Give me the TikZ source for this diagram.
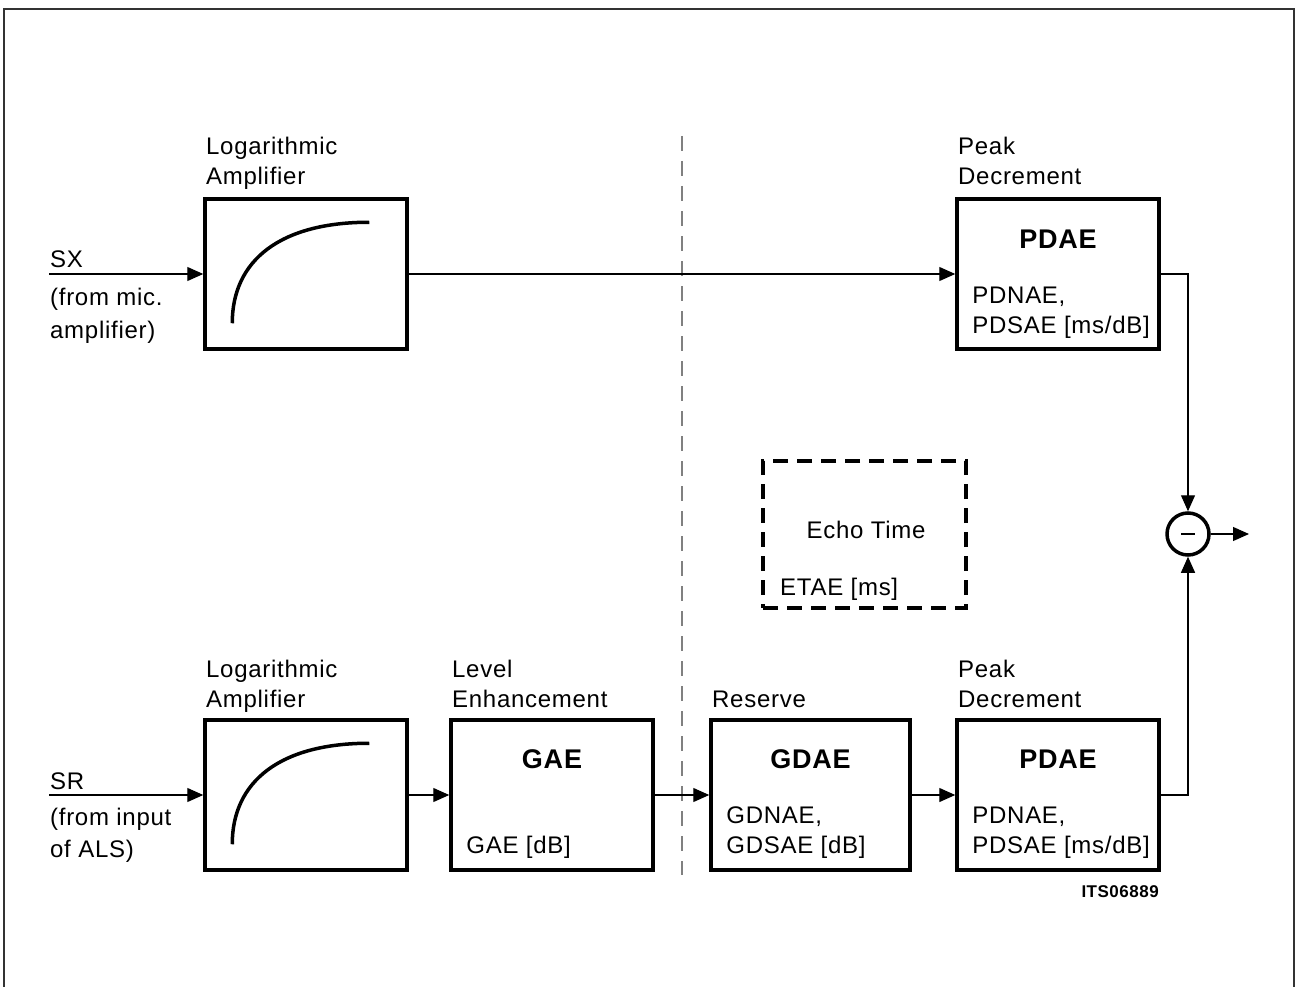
\documentclass[tikz,border=0pt]{standalone}
\usepackage{fontspec}
\setmainfont[LetterSpace=3]{Liberation Sans}
\usepackage{tikz}
\usetikzlibrary{arrows.meta,positioning,calc}

\begin{document}
\begin{tikzpicture}[x=1pt,y=-1pt,
  blk/.style={draw,line width=3.5pt,minimum width=202pt,minimum height=150pt,inner sep=0pt},
  txt/.style={font=\fontsize{24}{30}\selectfont,align=left,inner sep=0pt,anchor=base west},
  big/.style={font=\bfseries\fontsize{27}{30}\selectfont,inner sep=0pt,anchor=base},
  sig/.style={line width=1.2pt},
  arr/.style={sig,-{Triangle[length=16pt,width=14pt]}},
  logc/.style={line width=3.5pt}
]
\useasboundingbox (0,0) rectangle (1295,987);
\draw[line width=1.5pt,black!80] (4,995) -- (4,9) -- (1294,9) -- (1294,995);

% separation line
\draw[gray,line width=1.5pt,dash pattern=on 15pt off 10pt] (682,136) -- (682,875);

% upper path
\node[blk] (la1) at (306,274) {};
\node[blk] (pd1) at (1058,274) {};
\coordinate (sx) at (49,274);

% lower path
\node[blk] (la2) at (306,795) {};
\node[blk] (gae) at (552,795) {};
\node[blk,minimum width=199pt] (gdae) at (810.5,795) {};
\node[blk] (pd2) at (1058,795) {};
\coordinate (sr) at (49,795);

% echo time
\node[draw,line width=3.5pt,dash pattern=on 15pt off 9pt,minimum width=203pt,minimum height=147pt] (echo) at (864.5,534.5) {};

% subtractor
\node[draw,circle,line width=3.5pt,minimum size=42pt,inner sep=0pt] (sub) at (1188,534) {};
\draw[line width=2pt] ([xshift=-7pt]sub.center) -- ([xshift=7pt]sub.center);
\coordinate (out) at (1249,534);

% titles (base = last line)
\node[txt] (t1) at (206,185) {Logarithmic\\Amplifier};
\node[txt] (t2) at (958,185) {Peak\\Decrement};
\node[txt] (t3) at (206,707) {Logarithmic\\Amplifier};
\node[txt] (t4) at (452,707) {Level\\Enhancement};
\node[txt] (t5) at (712,707) {Reserve};
\node[txt] (t6) at (958,707) {Peak\\Decrement};

% inputs
\node[txt] (lsx) at (50,267) {SX};
\node[txt,font=\fontsize{24}{33}\selectfont] (lsx2) at (50,338) {(from mic.\\amplifier)};
\node[txt] (lsr) at (50,789) {SR};
\node[txt,font=\fontsize{24}{32}\selectfont] (lsr2) at (50,857) {(from input\\of ALS)};

% box contents
\node[big] (b1) at ([yshift=-51pt]pd1.north) {PDAE};
\node[txt] (d1) at ([xshift=17pt,yshift=-136pt]pd1.north west) {PDNAE,\\PDSAE [ms/dB]};
\node[big] (b2) at ([yshift=-50pt]gae.north) {GAE};
\node[txt] (d2) at ([xshift=17pt,yshift=-135pt]gae.north west) {GAE [dB]};
\node[big] (b3) at ([yshift=-50pt]gdae.north) {GDAE};
\node[txt] (d3) at ([xshift=17pt,yshift=-135pt]gdae.north west) {GDNAE,\\GDSAE [dB]};
\node[big] (b4) at ([yshift=-50pt]pd2.north) {PDAE};
\node[txt] (d4) at ([xshift=17pt,yshift=-135pt]pd2.north west) {PDNAE,\\PDSAE [ms/dB]};
\node[txt,anchor=base] (e1) at (866,538) {Echo Time};
\node[txt] (e2) at (780,595) {ETAE [ms]};
\node[font=\bfseries\fontsize{17}{17}\selectfont,inner sep=0pt,anchor=base east] (its) at (1159,897) {ITS06889};

% log curves
\draw[logc] ($(la1.north west)+(29,126)$) .. controls +(0,-63) and +(-89,0) .. +(137,-101);
\draw[logc] ($(la2.north west)+(29,126)$) .. controls +(0,-63) and +(-89,0) .. +(137,-101);

% connections
\draw[arr] (sx) -- (la1.west);
\draw[arr] (la1.east) -- (pd1.west);
\draw[arr] (pd1.east) -| (sub.north);
\draw[arr] (sr) -- (la2.west);
\draw[arr] (la2.east) -- (gae.west);
\draw[arr] (gae.east) -- (gdae.west);
\draw[arr] (gdae.east) -- (pd2.west);
\draw[arr] (pd2.east) -| (sub.south);
\draw[arr] (sub.east) -- (out);
\end{tikzpicture}
\end{document}
